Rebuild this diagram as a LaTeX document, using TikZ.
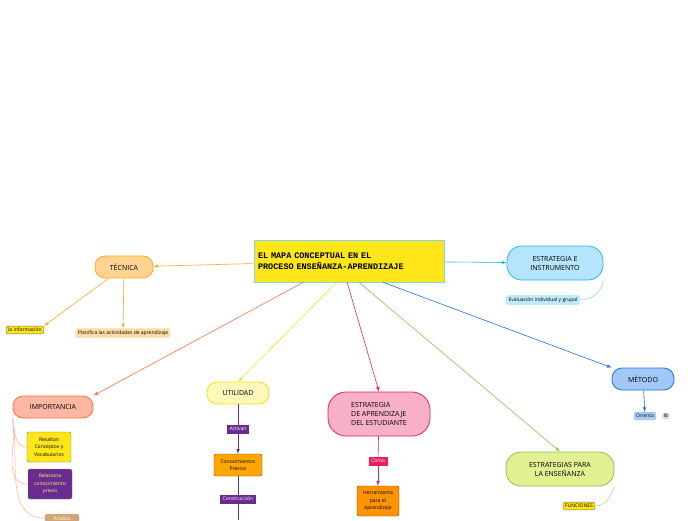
\documentclass[tikz,border=0pt]{standalone}
\usepackage{fontspec}
\setmainfont{Open Sans}
\newfontfamily\titlefont{Liberation Mono}
\newfontfamily\symfont{DejaVu Sans}
\definecolor{mpurple}{RGB}{106,44,145}
\definecolor{mblue}{RGB}{26,115,232}
\definecolor{mgreen}{RGB}{139,195,74}
\definecolor{mpink}{RGB}{233,30,99}
\definecolor{mcyan}{RGB}{41,182,246}
\definecolor{morange}{RGB}{255,167,38}
\definecolor{mred}{RGB}{255,112,67}
\definecolor{myellow}{RGB}{255,230,25}
\begin{document}
\begin{tikzpicture}[x=1pt,y=-1pt,>=latex,
  topic/.style={draw,rounded corners=10pt,line width=0.8pt,align=center,font=\fontsize{7}{9}\selectfont,inner sep=2pt},
  leaf/.style={draw,rounded corners=2pt,line width=0.4pt,align=center,font=\fontsize{5}{7.5}\selectfont,inner sep=2pt},
  link/.style={line width=0.6pt}]
  \useasboundingbox (0,0) rectangle (696,520);

  % Central node
  \node[draw=mcyan!60,fill=myellow,line width=0.6pt,minimum width=190pt,minimum height=42pt,
        text width=182pt,align=left,font=\titlefont\bfseries\fontsize{8.5}{11}\selectfont] (main) at (349,261)
        {EL MAPA CONCEPTUAL EN EL\\PROCESO ENSEÑANZA-APRENDIZAJE};

  % Main topics
  \node[topic,fill=morange!50,draw=morange,minimum width=58pt,minimum height=22pt] (tecnica) at (124,267) {TÉCNICA};
  \node[topic,fill=mcyan!35,draw=mcyan,minimum width=96pt,minimum height=34pt,rounded corners=15pt] (instr) at (555,263) {ESTRATEGIA E\\INSTRUMENTO};
  \node[topic,fill=mblue!40,draw=mblue,minimum width=62pt,minimum height=22pt] (metodo) at (643,379) {MÉTODO};
  \node[topic,fill=mgreen!50!yellow!50,draw=mgreen,minimum width=108pt,minimum height=34pt,rounded corners=15pt] (ensena) at (560,469) {ESTRATEGIAS PARA\\LA ENSEÑANZA};
  \node[topic,fill=mpink!35,draw=mpink,minimum width=102pt,minimum height=44pt,rounded corners=18pt,align=left] (aprend) at (379,414) {ESTRATEGIA\\DE APRENDIZAJE\\DEL ESTUDIANTE};
  \node[topic,fill=myellow!30,draw=myellow!90!orange,minimum width=62pt,minimum height=22pt] (utilidad) at (238,393) {UTILIDAD};
  \node[topic,fill=mred!50,draw=mred,minimum width=80pt,minimum height=22pt] (import) at (53,407) {IMPORTANCIA};

  % Leaves
  \node[leaf,fill=myellow,draw=yellow!40!black,anchor=east] (info) at (44,330) {la información};
  \node[leaf,fill=morange!40,draw=morange!40] (planif) at (123,333) {Planifica las actividades de aprendizaje};
  \node[leaf,fill=mcyan!30,draw=mcyan!50] (eval) at (543,300) {Evaluación individual y grupal};
  \node[leaf,fill=mblue!35,draw=mblue!50] (orienta) at (645,416) {Orienta};
  \node[leaf,fill=mblue!20,draw=mblue!30,inner sep=1pt,font=\symfont\fontsize{6}{7}\selectfont] (menu) at (666,416) {≡};
  \node[leaf,fill=myellow,draw=yellow!40!black] (funciones) at (579,506) {FUNCIONES};
  \node[leaf,fill=mpink,draw=mpink,text=white,rounded corners=0pt] (como) at (378,461) {Como};
  \node[leaf,fill=orange!85!yellow,draw=orange!50!black,text width=38pt,minimum height=30pt] (herram) at (378,501) {Herramienta\\para el\\Aprendizaje};
  \node[leaf,fill=mpurple,draw=mpurple,text=white,rounded corners=0pt] (activan) at (238,429) {Activan};
  \node[leaf,fill=orange!70!yellow,draw=orange!50!black,text width=44pt,minimum height=22pt] (conoc) at (238,465) {Conocimientos\\Previos};
  \node[leaf,fill=mpurple,draw=mpurple,text=white,rounded corners=0pt] (constr) at (238,499) {Construcción};
  \node[leaf,fill=myellow,draw=yellow!40!black,text width=40pt,minimum height=30pt] (resaltan) at (49,447) {Resaltan\\Conceptos y\\Vocabularios};
  \node[leaf,fill=mpurple,draw=yellow!40!black,text=yellow!60!white,text width=40pt,minimum height=30pt] (relac) at (50,484) {Relaciona\\conocimiento\\previo};
  \node[leaf,fill=brown!70!white,draw=brown!70!white,text=white,text width=30pt,anchor=north] (analiza) at (62,514) {Analiza};

  % Lines from the centre
  \draw[link,->,morange] (main) -- (tecnica);
  \draw[link,->,mcyan] (main) -- (instr);
  \draw[link,->,mred] (main.205) -- (import.north east);
  \draw[link,->,myellow!90!orange] (main.240) -- (utilidad.north);
  \draw[link,->,mpink] (main.265) -- (aprend.north);
  \draw[link,->,mgreen] (main.295) -- (ensena.north);
  \draw[link,->,mblue] (main.328) -- (metodo.north west);

  % Lines to leaves
  \draw[link,->,morange] (tecnica) -- (info.north east);
  \draw[link,->,morange] (tecnica) -- (planif);
  \draw[link,mcyan!50] (instr.south east) to[out=-100,in=0] (eval.east);
  \draw[link,->,mblue] (metodo) -- (orienta);
  \draw[link,mgreen!60] (ensena.south east) to[out=-110,in=0] (funciones.east);
  \draw[link,mpink] (aprend) -- (como);
  \draw[link,->,mpink] (como) -- (herram);
  \draw[link,mpurple] (utilidad) -- (activan);
  \draw[link,->,mpurple] (activan) -- (conoc);
  \draw[link,mpurple] (conoc) -- (constr);
  \draw[link,mpurple] (constr) -- (238,520);
  \draw[link,mred!50] (import.south west) to[out=-80,in=180] (resaltan.west);
  \draw[link,mred!50] (import.south west) to[out=-80,in=180] (relac.west);
  \draw[link,mred!50] (import.south west) to[out=-80,in=180] (analiza.west);
\end{tikzpicture}
\end{document}
